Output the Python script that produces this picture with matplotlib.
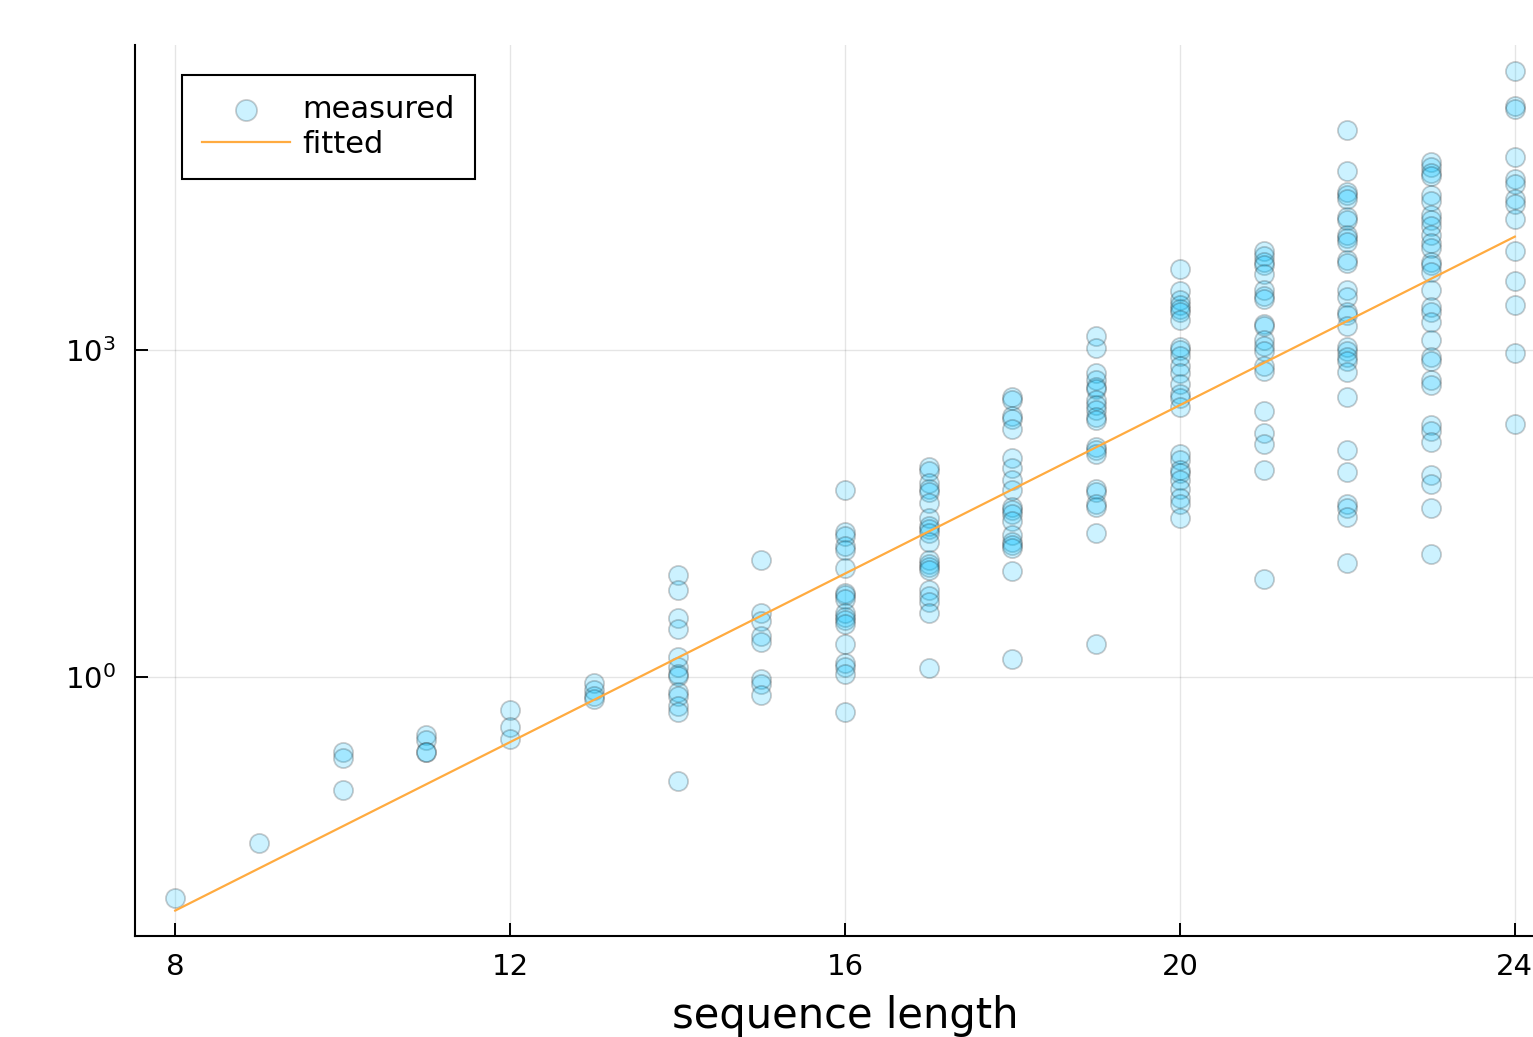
import matplotlib
matplotlib.use("Agg")
import matplotlib.pyplot as plt
import numpy as np

# log10 of measured time, grouped by sequence length
t08 = [-2.03]
t09 = [-1.52]
t10 = [-0.69, -0.74, -1.04]
t11 = [-0.53, -0.58, -0.69, -0.69]
t12 = [-0.30, -0.46, -0.57]
t13 = [-0.05, -0.12, -0.17, -0.20]
t14 = [0.94, 0.80, 0.54, 0.44, 0.18, 0.09, 0.03, 0.01, -0.14, -0.17, -0.27, -0.32, -0.95]
t15 = [1.07, 0.59, 0.51, 0.38, 0.32, -0.02, -0.06, -0.16]
t16 = [1.72, 1.33, 1.29, 1.20, 1.17, 1.00, 0.77, 0.75, 0.72, 0.59, 0.55, 0.52, 0.49,
       0.30, 0.13, 0.09, 0.03, -0.32]
t17 = [1.93, 1.89, 1.78, 1.73, 1.70, 1.60, 1.46, 1.39, 1.36, 1.32, 1.24, 1.07, 1.04,
       1.01, 0.98, 0.80, 0.74, 0.69, 0.59, 0.08]
t18 = [2.57, 2.54, 2.40, 2.37, 2.28, 2.01, 1.92, 1.81, 1.72, 1.56, 1.53, 1.50, 1.43,
       1.30, 1.24, 1.21, 1.18, 0.97, 0.17]
t19 = [3.13, 3.02, 2.79, 2.73, 2.66, 2.64, 2.54, 2.50, 2.45, 2.39, 2.36, 2.11, 2.08,
       2.05, 1.73, 1.70, 1.59, 1.56, 1.32, 0.30]
t20 = [3.74, 3.54, 3.46, 3.41, 3.38, 3.35, 3.28, 3.03, 3.00, 2.95, 2.85, 2.79, 2.69,
       2.60, 2.56, 2.48, 2.05, 1.99, 1.90, 1.87, 1.81, 1.73, 1.64, 1.59, 1.46]
t21 = [3.91, 3.86, 3.81, 3.78, 3.70, 3.55, 3.50, 3.47, 3.24, 3.22, 3.09, 3.04, 2.99,
       2.85, 2.81, 2.44, 2.24, 2.14, 1.90, 0.90]
t22 = [5.02, 4.64, 4.45, 4.42, 4.39, 4.22, 4.19, 4.06, 4.03, 3.99, 3.83, 3.80, 3.55,
       3.49, 3.35, 3.32, 3.22, 3.03, 2.99, 2.94, 2.90, 2.80, 2.57, 2.08, 1.88, 1.59,
       1.55, 1.47, 1.05]
t23 = [4.73, 4.68, 4.63, 4.60, 4.42, 4.37, 4.24, 4.19, 4.14, 4.06, 3.98, 3.94, 3.81,
       3.78, 3.72, 3.55, 3.40, 3.35, 3.26, 3.09, 2.94, 2.90, 2.73, 2.68, 2.31, 2.26,
       2.16, 1.85, 1.77, 1.55, 1.13]
t24 = [5.56, 5.24, 5.21, 4.77, 4.57, 4.52, 4.39, 4.34, 4.20, 3.91, 3.63, 3.41, 2.97, 2.32]

seq_lengths = list(range(8, 25))
groups = [t08, t09, t10, t11, t12, t13, t14, t15, t16, t17, t18, t19, t20, t21, t22, t23, t24]

fit_x = [8, 24]
fit_y = [0.0072, 11000.0]

xs = np.concatenate([[n] * len(g) for n, g in zip(seq_lengths, groups)])
ys = np.power(10.0, np.concatenate(groups))

fig = plt.figure(figsize=(15.33, 10.37), dpi=100)
# plot area runs a little past the right edge of the canvas, as in the original
ax = fig.add_axes([135 / 1533, 101 / 1037, 1420 / 1533, 891 / 1037])

ax.scatter(xs, ys, s=190, facecolor=(0.0, 0.75, 1.0, 0.2),
           edgecolor=(0, 0, 0, 0.2), linewidths=1.3, label="measured", zorder=3)
ax.plot(fit_x, fit_y, color="#ffab40", lw=1.6, label="fitted", zorder=4)

ax.set_yscale("log")
ax.set_xlim(7.52, 24.48)
ax.set_ylim(10 ** -2.376, 10 ** 5.80)
ax.set_xticks([8, 12, 16, 20, 24])
ax.set_yticks([1, 1000])
ax.set_yticklabels([r"$10^{0}$", r"$10^{3}$"])
ax.yaxis.set_minor_locator(matplotlib.ticker.NullLocator())
ax.tick_params(direction="in", length=9.5, width=1.4, labelsize=21)
ax.tick_params(axis="x", pad=12)
ax.tick_params(axis="y", pad=14)
ax.grid(True, color="black", alpha=0.1, lw=1.0)
ax.set_axisbelow(True)

for side in ["top", "right"]:
    ax.spines[side].set_visible(False)
for side in ["left", "bottom"]:
    ax.spines[side].set_linewidth(1.5)

ax.set_xlabel("sequence length", fontsize=30, labelpad=10)

leg = ax.legend(loc="upper left", bbox_to_anchor=(47 / 1420, 0.9663), borderaxespad=0,
                fontsize=22, fancybox=False, edgecolor="black", framealpha=1,
                handlelength=2.9, handletextpad=0.4, labelspacing=0.2,
                borderpad=0.65, markerscale=1.1)
leg.get_frame().set_linewidth(1.5)

fig.savefig("out.png", dpi=100)
